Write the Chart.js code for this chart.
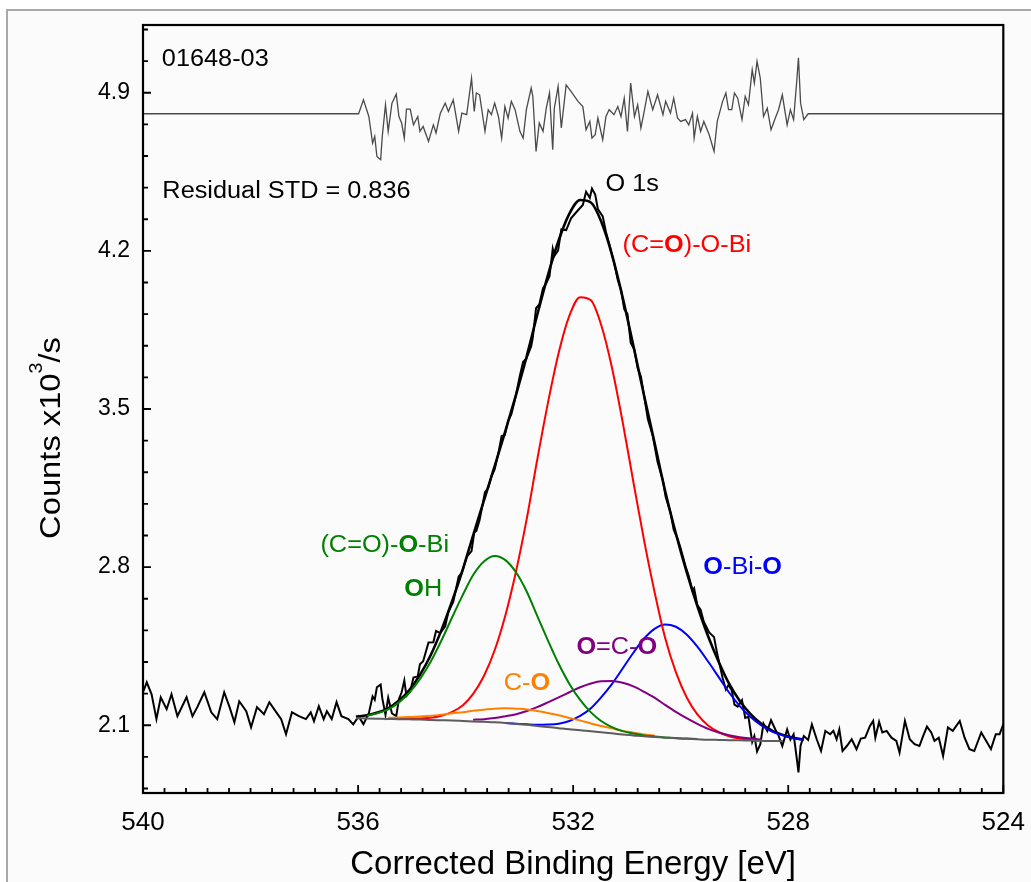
<!DOCTYPE html>
<html>
<head>
<meta charset="utf-8">
<title>O 1s</title>
<script src="https://cdn.jsdelivr.net/npm/chart.js@4.4.1/dist/chart.umd.min.js"></script>
<style>
  html, body { margin: 0; padding: 0; background: #fff; overflow: hidden; }
  #wrap { position: relative; width: 1031px; height: 882px; }
  #frame { position: absolute; left: 6px; top: 9px; right: 0; bottom: 0;
           border-left: 2px solid #a9a9a9; border-top: 2px solid #a9a9a9; background: #fbfbfb; }
  canvas { position: absolute; left: 0; top: 0; }
</style>
</head>
<body>
<div id="wrap"><div id="frame"></div><canvas id="xps" width="1031" height="882"></canvas></div>
<script>
const FONT = "'Liberation Sans', Arial, sans-serif";

// tick labels
const xTickLabels = [540, 536, 532, 528, 524];
const yTickLabels = [2.1, 2.8, 3.5, 4.2, 4.9];

// fit region (binding energy, eV)
const fitBE = [536.04, 535.84, 535.64, 535.44, 535.25, 535.05, 534.85, 534.65, 534.45, 534.25,
  534.05, 533.86, 533.66, 533.46, 533.26, 533.06, 532.86, 532.67, 532.47, 532.27,
  532.07, 531.87, 531.67, 531.48, 531.28, 531.08, 530.88, 530.68, 530.48, 530.29,
  530.09, 529.89, 529.69, 529.49, 529.29, 529.10, 528.90, 528.70, 528.50, 528.30,
  528.10, 527.91, 527.71];

const envelope = [2.138, 2.144, 2.156, 2.175, 2.207, 2.255, 2.323, 2.410, 2.521, 2.650,
  2.791, 2.941, 3.094, 3.247, 3.403, 3.565, 3.737, 3.915, 4.092, 4.246,
  4.365, 4.425, 4.414, 4.331, 4.185, 3.995, 3.780, 3.559, 3.344, 3.138,
  2.949, 2.779, 2.628, 2.494, 2.379, 2.284, 2.207, 2.149, 2.106, 2.076,
  2.057, 2.044, 2.036];

const background = [2.131, 2.130, 2.129, 2.128, 2.127, 2.126, 2.125, 2.123, 2.122, 2.121,
  2.119, 2.117, 2.115, 2.113, 2.110, 2.106, 2.102, 2.097, 2.092, 2.087,
  2.082, 2.078, 2.073, 2.069, 2.064, 2.059, 2.055, 2.051, 2.048, 2.045,
  2.042, 2.040, 2.038, 2.036, 2.035, 2.034, 2.033, 2.032, 2.031, 2.030,
  2.030, null, null];

// (C=O)-O-Bi / OH
const peakGreen = [null, 2.142, 2.153, 2.170, 2.199, 2.243, 2.304, 2.381, 2.475, 2.578,
  2.678, 2.765, 2.825, 2.849, 2.831, 2.776, 2.690, 2.585, 2.476, 2.372,
  2.283, 2.212, 2.157, 2.119, 2.092, 2.074, 2.063, 2.055, 2.050, 2.046,
  2.043, 2.041, 2.039, null, null, null, null, null, null, null,
  null, null, null];

// C-O
const peakOrange = [null, null, null, 2.133, 2.134, 2.136, 2.139, 2.142, 2.147, 2.153,
  2.158, 2.164, 2.169, 2.173, 2.175, 2.173, 2.170, 2.163, 2.154, 2.144,
  2.132, 2.121, 2.108, 2.097, 2.086, 2.075, 2.067, 2.059, 2.054, null,
  null, null, null, null, null, null, null, null, null, null,
  null, null, null];

// O=C-O
const peakPurple = [null, null, null, null, null, null, null, null, null, null,
  null, 2.124, 2.127, 2.132, 2.140, 2.149, 2.163, 2.180, 2.201, 2.223,
  2.246, 2.268, 2.285, 2.295, 2.296, 2.288, 2.272, 2.248, 2.221, 2.190,
  2.159, 2.131, 2.106, 2.084, 2.068, 2.056, 2.047, 2.041, 2.036, null,
  null, null, null];

// (C=O)-O-Bi
const peakRed = [null, null, null, 2.129, 2.128, 2.128, 2.130, 2.133, 2.142, 2.159,
  2.189, 2.239, 2.318, 2.432, 2.587, 2.784, 3.018, 3.273, 3.526, 3.748,
  3.913, 3.995, 3.981, 3.873, 3.685, 3.443, 3.177, 2.917, 2.683, 2.487,
  2.335, 2.224, 2.148, 2.099, 2.069, 2.051, 2.041, 2.036, 2.033, null,
  null, null, null];

// O-Bi-O
const peakBlue = [null, null, null, null, null, null, null, null, null, null,
  null, null, null, null, 2.110, 2.107, 2.104, 2.102, 2.103, 2.107,
  2.119, 2.141, 2.175, 2.223, 2.282, 2.351, 2.421, 2.484, 2.528, 2.546,
  2.536, 2.502, 2.448, 2.382, 2.312, 2.245, 2.185, 2.136, 2.099, 2.072,
  2.055, 2.043, 2.036];

// measured spectrum
const rawBE = [540.00, 539.93, 539.84, 539.75, 539.67, 539.56, 539.47, 539.36, 539.19, 539.08,
  538.99, 538.86, 538.73, 538.62, 538.49, 538.39, 538.30, 538.21, 538.08, 537.99,
  537.88, 537.75, 537.65, 537.52, 537.43, 537.34, 537.23, 537.10, 536.97, 536.88,
  536.82, 536.73, 536.64, 536.58, 536.49, 536.40, 536.31, 536.18, 536.09,
  535.99, 535.90, 535.80, 535.73, 535.69, 535.65, 535.58, 535.55, 535.49, 535.44,
  535.37, 535.29, 535.24, 535.19, 535.14, 535.10, 535.03, 534.97, 534.89, 534.85,
  534.79, 534.69, 534.60, 534.55, 534.47, 534.38, 534.32, 534.23, 534.13, 534.07,
  533.98, 533.89, 533.84, 533.80, 533.74, 533.64, 533.58, 533.52, 533.46, 533.39,
  533.33, 533.27, 533.21, 533.15, 533.08, 532.99, 532.93, 532.87, 532.78, 532.75,
  532.69, 532.63, 532.56, 532.50, 532.44, 532.38, 532.35, 532.28, 532.22, 532.13,
  532.04, 531.91, 531.82, 531.76, 531.69, 531.65, 531.59, 531.54, 531.45, 531.39,
  531.33, 531.24, 531.17, 531.11, 531.05, 530.99, 530.93, 530.86, 530.80, 530.74,
  530.69, 530.61, 530.52, 530.43, 530.33, 530.28, 530.19, 530.13, 530.06, 530.00,
  529.91, 529.85, 529.78, 529.75, 529.69, 529.63, 529.57, 529.47, 529.38, 529.32,
  529.22, 529.16, 529.11, 529.05, 529.00, 528.94, 528.86, 528.80, 528.74, 528.67,
  528.63, 528.58, 528.52, 528.46, 528.39, 528.32, 528.24, 528.18, 528.11, 528.02,
  527.96, 527.90, 527.84, 527.81, 527.77, 527.71, 527.63,
  527.56, 527.47, 527.39, 527.31, 527.22, 527.16, 527.10, 527.05, 526.99, 526.91,
  526.82, 526.73, 526.65, 526.57, 526.48, 526.42, 526.38, 526.31, 526.25, 526.17,
  526.08, 525.99, 525.93, 525.83, 525.74, 525.65, 525.56, 525.49, 525.42, 525.34,
  525.28, 525.20, 525.12, 525.03, 524.94, 524.81, 524.72, 524.63, 524.54, 524.41,
  524.32, 524.23, 524.14, 524.07, 524.00];

const rawCounts = [2.246, 2.290, 2.237, 2.127, 2.224, 2.171, 2.237, 2.140, 2.224, 2.140,
  2.180, 2.246, 2.157, 2.127, 2.246, 2.180, 2.113, 2.206, 2.162, 2.091,
  2.180, 2.149, 2.202, 2.157, 2.127, 2.060, 2.157, 2.140, 2.127, 2.157,
  2.118, 2.184, 2.127, 2.162, 2.127, 2.202, 2.140, 2.127, 2.104,
  2.139, 2.105, 2.153, 2.228, 2.213, 2.268, 2.280, 2.220, 2.146, 2.222,
  2.152, 2.140, 2.216, 2.246, 2.298, 2.230, 2.249, 2.311, 2.316, 2.370,
  2.383, 2.466, 2.467, 2.517, 2.508, 2.538, 2.602, 2.646, 2.758, 2.776,
  2.845, 2.871, 2.953, 2.960, 3.008, 3.132, 3.150, 3.202, 3.233, 3.305,
  3.380, 3.385, 3.448, 3.476, 3.544, 3.648, 3.709, 3.723, 3.778, 3.817,
  3.946, 3.963, 4.035, 4.057, 4.088, 4.209, 4.177, 4.202, 4.295, 4.292,
  4.344, 4.380, 4.403, 4.462, 4.435, 4.476, 4.449, 4.385, 4.353, 4.284,
  4.232, 4.149, 4.071, 4.028, 3.942, 3.921, 3.793, 3.762, 3.680, 3.644,
  3.571, 3.454, 3.382, 3.265, 3.183, 3.111, 3.042, 2.966, 2.927, 2.882,
  2.804, 2.760, 2.695, 2.706, 2.632, 2.612, 2.558, 2.511, 2.490, 2.416,
  2.309, 2.258, 2.278, 2.254, 2.191, 2.182, 2.211, 2.132, 2.137, 2.026,
  2.052, 1.984, 2.015, 2.107, 2.075, 2.122, 2.081, 2.054, 2.008, 2.081,
  2.036, 2.060, 1.951, 1.891, 2.011, 2.052, 2.035,
  2.104, 2.038, 1.986, 2.075, 2.060, 2.075, 2.038, 2.082, 1.986, 2.008,
  2.038, 1.994, 2.041, 2.045, 2.097, 2.119, 2.045, 2.115, 2.068, 2.075,
  2.045, 2.031, 1.979, 2.119, 2.038, 2.016, 2.008, 2.053, 2.094, 2.068,
  2.031, 2.045, 1.964, 2.090, 2.075, 2.119, 2.045, 1.994, 1.986, 2.068,
  2.031, 1.994, 2.060, 2.060, 2.104];

// residual trace (top of the plot)
const resBE = [540.00,
  535.99, 535.90, 535.80, 535.73, 535.69, 535.65, 535.58, 535.55, 535.49, 535.44,
  535.37, 535.29, 535.24, 535.19, 535.14, 535.10, 535.03, 534.97, 534.89, 534.85,
  534.79, 534.69, 534.60, 534.55, 534.47, 534.38, 534.32, 534.23, 534.13, 534.07,
  533.98, 533.89, 533.84, 533.80, 533.74, 533.64, 533.58, 533.52, 533.46, 533.39,
  533.33, 533.27, 533.21, 533.15, 533.08, 532.99, 532.93, 532.87, 532.78, 532.75,
  532.69, 532.63, 532.56, 532.50, 532.44, 532.38, 532.35, 532.28, 532.22, 532.13,
  532.04, 531.91, 531.82, 531.76, 531.69, 531.65, 531.59, 531.54, 531.45, 531.39,
  531.33, 531.24, 531.17, 531.11, 531.05, 530.99, 530.93, 530.86, 530.80, 530.74,
  530.69, 530.61, 530.52, 530.43, 530.33, 530.28, 530.19, 530.13, 530.06, 530.00,
  529.91, 529.85, 529.78, 529.75, 529.69, 529.63, 529.57, 529.47, 529.38, 529.32,
  529.22, 529.16, 529.11, 529.05, 529.00, 528.94, 528.86, 528.80, 528.74, 528.67,
  528.63, 528.58, 528.52, 528.46, 528.39, 528.32, 528.24, 528.18, 528.11, 528.02,
  527.96, 527.90, 527.84, 527.81, 527.77, 527.71, 527.63,
  524.00];

const resVal = [4.807,
  4.807, 4.869, 4.795, 4.677, 4.707, 4.618, 4.604, 4.707, 4.847, 4.729,
  4.854, 4.894, 4.795, 4.766, 4.699, 4.828, 4.828, 4.758, 4.795, 4.729,
  4.751, 4.685, 4.758, 4.722, 4.810, 4.854, 4.817, 4.869, 4.729, 4.810,
  4.803, 4.965, 4.817, 4.899, 4.891, 4.729, 4.825, 4.803, 4.854, 4.795,
  4.699, 4.839, 4.788, 4.862, 4.825, 4.729, 4.699, 4.825, 4.921, 4.884,
  4.640, 4.766, 4.729, 4.832, 4.899, 4.648, 4.832, 4.928, 4.744, 4.935,
  4.906, 4.862, 4.839, 4.736, 4.773, 4.699, 4.714, 4.788, 4.692, 4.795,
  4.825, 4.803, 4.839, 4.795, 4.876, 4.729, 4.943, 4.795, 4.847, 4.744,
  4.803, 4.906, 4.825, 4.891, 4.803, 4.862, 4.810, 4.876, 4.788, 4.773,
  4.781, 4.758, 4.810, 4.699, 4.795, 4.729, 4.773, 4.714, 4.640, 4.773,
  4.862, 4.899, 4.825, 4.825, 4.899, 4.876, 4.781, 4.884, 4.847, 5.002,
  4.943, 5.039, 4.965, 4.795, 4.832, 4.736, 4.788, 4.825, 4.891, 4.758,
  4.825, 4.781, 4.957, 5.055, 4.854, 4.781, 4.807,
  4.807];

// text placed on the plot (anchored in data units)
const notes = [
  {be: 539.65, y: 5.017, color: '#000', parts: [['01648-03', 0]]},
  {be: 539.64, y: 4.432, color: '#000', parts: [['Residual STD = 0.836', 0]]},
  {be: 531.40, y: 4.467, color: '#000', parts: [['O 1s', 0]]},
  {be: 531.08, y: 4.193, color: '#ff0000', parts: [['(C=', 0], ['O', 1], [')-O-Bi', 0]]},
  {be: 536.70, y: 2.866, color: '#008000', parts: [['(C=O)-', 0], ['O', 1], ['-Bi', 0]]},
  {be: 535.14, y: 2.671, color: '#008000', parts: [['O', 1], ['H', 0]]},
  {be: 533.29, y: 2.256, color: '#ff8000', parts: [['C-', 0], ['O', 1]]},
  {be: 531.94, y: 2.414, color: '#800080', parts: [['O', 1], ['=C-', 0], ['O', 1]]},
  {be: 529.58, y: 2.768, color: '#0000ff', parts: [['O', 1], ['-Bi-', 0], ['O', 1]]}
];

function pts(xs, ys) {
  return xs.map((x, i) => ({x: x, y: ys[i]}));
}

function richText(ctx, parts, size, sx) {
  let cx = 0;
  ctx.save();
  ctx.scale(sx, 1);
  parts.forEach(p => {
    ctx.font = (p[1] ? 'bold ' : '') + size + 'px ' + FONT;
    ctx.fillText(p[0], cx, 0);
    cx += ctx.measureText(p[0]).width;
  });
  ctx.restore();
}

const decor = {
  id: 'decor',
  afterDraw(chart) {
    const {ctx, chartArea: a, scales: {x, y}} = chart;
    ctx.save();

    // inward ticks
    ctx.strokeStyle = '#000';
    ctx.lineWidth = 1.8;
    ctx.beginPath();
    for (let i = 0; i <= 40; i++) {
      const px = x.getPixelForValue(524 + i * 0.4);
      const len = i % 10 === 0 ? 8 : 5;
      ctx.moveTo(px, a.bottom);
      ctx.lineTo(px, a.bottom - len);
    }
    for (let i = 0; i <= 24; i++) {
      const py = y.getPixelForValue(1.82 + i * 0.14);
      const len = (i - 2) % 5 === 0 ? 8 : 5;
      ctx.moveTo(a.left, py);
      ctx.lineTo(a.left + len, py);
    }
    ctx.stroke();

    // frame
    ctx.lineWidth = 2.2;
    ctx.strokeRect(a.left, a.top, a.right - a.left, a.bottom - a.top);

    // notes
    ctx.textBaseline = 'alphabetic';
    ctx.textAlign = 'left';
    notes.forEach(n => {
      ctx.save();
      ctx.translate(x.getPixelForValue(n.be), y.getPixelForValue(n.y));
      ctx.fillStyle = n.color;
      richText(ctx, n.parts, 23, 1.1);
      ctx.restore();
    });

    // y axis title with superscript
    ctx.fillStyle = '#000';
    ctx.font = '30px ' + FONT;
    const w1 = ctx.measureText('Counts x10').width;
    const w3 = ctx.measureText('/s').width;
    ctx.font = '18px ' + FONT;
    const w2 = ctx.measureText('3').width;
    const total = (w1 + w2 + w3) * 1.09;
    ctx.translate(60, 438 + total / 2);
    ctx.rotate(-Math.PI / 2);
    ctx.scale(1.09, 1);
    ctx.font = '30px ' + FONT;
    ctx.fillText('Counts x10', 0, 0);
    ctx.font = '18px ' + FONT;
    ctx.fillText('3', w1, -18);
    ctx.font = '30px ' + FONT;
    ctx.fillText('/s', w1 + w2, 0);
    ctx.restore();
  }
};

const smooth = {cubicInterpolationMode: 'monotone', borderWidth: 2};

new Chart(document.getElementById('xps'), {
  type: 'line',
  data: {
    datasets: [
      {label: 'Residual', data: pts(resBE, resVal), borderColor: '#4a4a4a', borderWidth: 1.3},
      Object.assign({label: 'Background', data: pts(fitBE, background), borderColor: '#5c5c5c'}, smooth),
      Object.assign({label: '(C=O)-O-Bi / OH', data: pts(fitBE, peakGreen), borderColor: '#008000'}, smooth),
      Object.assign({label: 'C-O', data: pts(fitBE, peakOrange), borderColor: '#ff8000'}, smooth),
      Object.assign({label: 'O=C-O', data: pts(fitBE, peakPurple), borderColor: '#800080'}, smooth),
      Object.assign({label: '(C=O)-O-Bi', data: pts(fitBE, peakRed), borderColor: '#ff0000'}, smooth),
      Object.assign({label: 'O-Bi-O', data: pts(fitBE, peakBlue), borderColor: '#0000ff'}, smooth),
      {label: 'Envelope', data: pts(fitBE, envelope), borderColor: '#000', borderWidth: 2.6, cubicInterpolationMode: 'monotone'},
      {label: 'O 1s', data: pts(rawBE, rawCounts), borderColor: '#000', borderWidth: 2}
    ]
  },
  options: {
    responsive: false,
    animation: false,
    devicePixelRatio: 1,
    spanGaps: false,
    layout: {padding: {left: 0, right: 24, top: 25, bottom: 0}},
    elements: {point: {radius: 0}, line: {tension: 0}},
    plugins: {legend: {display: false}, tooltip: {enabled: false}},
    scales: {
      x: {
        type: 'linear',
        reverse: true,
        min: 524,
        max: 540,
        grid: {display: false},
        border: {display: false},
        afterBuildTicks: s => { s.ticks = xTickLabels.map(v => ({value: v})); },
        afterFit: s => { s.height = 89; },
        ticks: {
          font: {family: FONT, size: 26},
          color: '#000',
          padding: 6,
          maxRotation: 0,
          autoSkip: false,
          callback: v => String(v)
        },
        title: {
          display: true,
          text: 'Corrected Binding Energy [eV]',
          font: {family: FONT, size: 33, lineHeight: 1},
          color: '#000',
          padding: {top: 0, bottom: 1}
        }
      },
      y: {
        type: 'linear',
        min: 1.8,
        max: 5.2,
        grid: {display: false},
        border: {display: false},
        afterBuildTicks: s => { s.ticks = yTickLabels.map(v => ({value: v})); },
        afterFit: s => { s.width = 143; },
        ticks: {
          font: {family: FONT, size: 23},
          color: '#000',
          padding: 5,
          callback: v => v.toFixed(1)
        }
      }
    }
  },
  plugins: [decor]
});
</script>
</body>
</html>
